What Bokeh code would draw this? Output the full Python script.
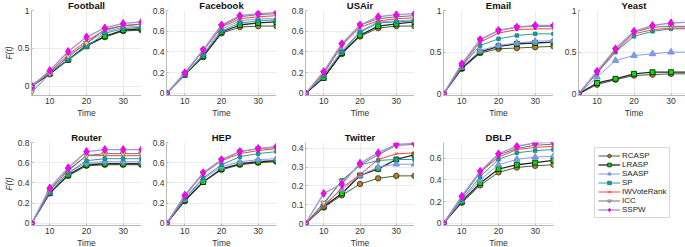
from bokeh.plotting import figure
from bokeh.layouts import row, column
from bokeh.models import FixedTicker, Legend, LegendItem, Range1d, Title
from bokeh.embed import file_html
from bokeh.resources import INLINE

time = [5, 10, 15, 20, 25, 30, 35]
methods = ["RCASP", "LRASP", "SAASP", "SP", "IWVoteRank", "ICC", "SSPW"]

football = {
    "RCASP": [0, 0.16, 0.35, 0.55, 0.65, 0.73, 0.74],
    "LRASP": [0, 0.17, 0.35, 0.53, 0.66, 0.74, 0.76],
    "SAASP": [0, 0.18, 0.38, 0.57, 0.72, 0.78, 0.79],
    "SP": [0.02, 0.18, 0.35, 0.52, 0.70, 0.76, 0.78],
    "IWVoteRank": [0, 0.19, 0.42, 0.60, 0.74, 0.80, 0.82],
    "ICC": [-0.08, 0.17, 0.40, 0.57, 0.75, 0.80, 0.82],
    "SSPW": [0, 0.21, 0.46, 0.65, 0.77, 0.83, 0.85],
}
facebook = {
    "RCASP": [0, 0.18, 0.35, 0.58, 0.64, 0.65, 0.65],
    "LRASP": [0, 0.18, 0.36, 0.59, 0.66, 0.68, 0.69],
    "SAASP": [0, 0.18, 0.38, 0.62, 0.70, 0.72, 0.72],
    "SP": [0, 0.18, 0.37, 0.60, 0.68, 0.70, 0.71],
    "IWVoteRank": [0, 0.19, 0.41, 0.64, 0.72, 0.74, 0.75],
    "ICC": [0, 0.19, 0.42, 0.65, 0.74, 0.76, 0.77],
    "SSPW": [0, 0.20, 0.42, 0.66, 0.75, 0.77, 0.78],
}
usair = {
    "RCASP": [0, 0.15, 0.38, 0.55, 0.63, 0.65, 0.65],
    "LRASP": [0, 0.15, 0.39, 0.56, 0.65, 0.67, 0.69],
    "SAASP": [0, 0.17, 0.41, 0.60, 0.69, 0.70, 0.71],
    "SP": [0, 0.17, 0.40, 0.59, 0.68, 0.69, 0.70],
    "IWVoteRank": [0, 0.19, 0.46, 0.64, 0.70, 0.72, 0.73],
    "ICC": [0, 0.20, 0.47, 0.66, 0.72, 0.74, 0.75],
    "SSPW": [0, 0.21, 0.48, 0.66, 0.74, 0.76, 0.77],
}
email = {
    "RCASP": [0, 0.30, 0.49, 0.54, 0.55, 0.56, 0.57],
    "LRASP": [0, 0.31, 0.50, 0.57, 0.60, 0.61, 0.62],
    "SAASP": [0, 0.32, 0.52, 0.58, 0.61, 0.63, 0.64],
    "SP": [0, 0.33, 0.58, 0.66, 0.70, 0.72, 0.72],
    "IWVoteRank": [0, 0.34, 0.62, 0.73, 0.77, 0.78, 0.78],
    "ICC": [0, 0.35, 0.65, 0.76, 0.80, 0.81, 0.81],
    "SSPW": [0, 0.36, 0.65, 0.76, 0.80, 0.82, 0.82],
}
yeast = {
    "RCASP": [0, 0.11, 0.17, 0.22, 0.23, 0.24, 0.24],
    "LRASP": [0, 0.13, 0.18, 0.24, 0.26, 0.26, 0.26],
    "SAASP": [0, 0.20, 0.40, 0.46, 0.48, 0.50, 0.50],
    "SP": [0, 0.25, 0.50, 0.69, 0.75, 0.78, 0.78],
    "IWVoteRank": [0, 0.25, 0.51, 0.72, 0.77, 0.79, 0.79],
    "ICC": [0, 0.26, 0.53, 0.74, 0.80, 0.81, 0.81],
    "SSPW": [0, 0.27, 0.54, 0.75, 0.82, 0.85, 0.86],
}
router = {
    "RCASP": [0, 0.30, 0.47, 0.57, 0.58, 0.58, 0.58],
    "LRASP": [0, 0.30, 0.48, 0.58, 0.59, 0.59, 0.59],
    "SAASP": [0, 0.31, 0.50, 0.60, 0.61, 0.61, 0.61],
    "SP": [0, 0.31, 0.50, 0.62, 0.64, 0.64, 0.64],
    "IWVoteRank": [0, 0.33, 0.52, 0.67, 0.67, 0.67, 0.67],
    "ICC": [0, 0.33, 0.53, 0.67, 0.69, 0.69, 0.69],
    "SSPW": [0, 0.35, 0.55, 0.71, 0.73, 0.73, 0.73],
}
hep = {
    "RCASP": [0, 0.22, 0.41, 0.53, 0.58, 0.60, 0.61],
    "LRASP": [0, 0.23, 0.41, 0.54, 0.59, 0.61, 0.62],
    "SAASP": [0, 0.24, 0.44, 0.56, 0.61, 0.63, 0.64],
    "SP": [0, 0.25, 0.45, 0.58, 0.66, 0.69, 0.71],
    "IWVoteRank": [0, 0.27, 0.49, 0.62, 0.69, 0.72, 0.74],
    "ICC": [0, 0.27, 0.50, 0.63, 0.71, 0.74, 0.75],
    "SSPW": [0, 0.28, 0.50, 0.63, 0.71, 0.74, 0.76],
}
twitter = {
    "RCASP": [0, 0.085, 0.15, 0.21, 0.24, 0.253, 0.253],
    "LRASP": [0, 0.09, 0.16, 0.255, 0.29, 0.34, 0.365],
    "SAASP": [0, 0.10, 0.18, 0.255, 0.30, 0.315, 0.315],
    "SP": [0, 0.10, 0.23, 0.31, 0.335, 0.34, 0.34],
    "IWVoteRank": [0, 0.09, 0.19, 0.26, 0.34, 0.37, 0.375],
    "ICC": [0, 0.11, 0.225, 0.31, 0.365, 0.415, 0.42],
    "SSPW": [0, 0.16, 0.21, 0.32, 0.375, 0.42, 0.425],
}
dblp = {
    "RCASP": [0, 0.19, 0.35, 0.47, 0.515, 0.53, 0.54],
    "LRASP": [0, 0.20, 0.37, 0.50, 0.54, 0.56, 0.58],
    "SAASP": [0, 0.21, 0.40, 0.54, 0.59, 0.61, 0.62],
    "SP": [0, 0.22, 0.43, 0.59, 0.65, 0.67, 0.68],
    "IWVoteRank": [0, 0.24, 0.47, 0.61, 0.68, 0.70, 0.71],
    "ICC": [0, 0.24, 0.47, 0.63, 0.69, 0.72, 0.73],
    "SSPW": [0, 0.25, 0.48, 0.64, 0.71, 0.74, 0.75],
}

titles = ["Football", "Facebook", "USAir", "Email", "Yeast",
          "Router", "HEP", "Twitter", "DBLP"]
datasets = [football, facebook, usair, email, yeast,
            router, hep, twitter, dblp]
y_ranges = [(-0.12, 1.0), (-0.02, 0.8), (-0.02, 0.8), (-0.02, 1.0), (-0.02, 1.0),
            (-0.02, 0.8), (-0.02, 0.8), (-0.01, 0.43), (-0.02, 0.745)]
y_ticks = [[0, 0.5, 1], [0, 0.2, 0.4, 0.6, 0.8], [0, 0.2, 0.4, 0.6, 0.8],
           [0, 0.5, 1], [0, 0.5, 1],
           [0, 0.2, 0.4, 0.6, 0.8], [0, 0.2, 0.4, 0.6, 0.8],
           [0, 0.1, 0.2, 0.3, 0.4], [0, 0.2, 0.4, 0.6]]
x_ticks = [10, 20, 30]

styles = {
    "RCASP": dict(line_color="#35692f", line_width=1.0, marker="circle", size=5.5,
                  fill_color="#b47c3c", mline="#3a2a10"),
    "LRASP": dict(line_color="#262626", line_width=1.3, marker="square", size=5,
                  fill_color="#00e000", mline="#111111"),
    "SAASP": dict(line_color="#8c9ae8", line_width=1.0, marker="triangle", size=6.5,
                  fill_color="#7d9be6", mline="#6a86d6"),
    "SP": dict(line_color="#2a9e98", line_width=1.0, marker="square", size=3.5,
               fill_color="#179c9c", mline="#127f7f"),
    "IWVoteRank": dict(line_color="#ff4040", line_width=1.0, marker="x", size=4,
                       fill_color="#ff2020", mline="#ff2020"),
    "ICC": dict(line_color="#6f6f7a", line_width=1.0, marker="inverted_triangle", size=6,
                fill_color="#e6d488", mline="#707070"),
    "SSPW": dict(line_color="#a394d6", line_width=1.4, marker="diamond", size=8,
                 fill_color="#ff00ff", mline="#cc00cc"),
}

FONT = "Liberation Sans"
col_left = [25, 25, 29, 29, 25]
col_fw = [110, 110, 109, 110, 111]
row_top = [10, 19]
row_fh = [85, 83]
row_bottom = [28, 22]


def make_panel(i):
    r, c = divmod(i, 5)
    lo, hi = y_ranges[i]
    if r == 1 and c == 3:
        right = 138
    else:
        right = 2 if c == 4 else 0
    p = figure(frame_width=col_fw[c], frame_height=row_fh[r], title=None,
               x_range=Range1d(5, 35), y_range=Range1d(lo, hi),
               output_backend="svg", toolbar_location=None,
               min_border_left=col_left[c], min_border_right=right,
               min_border_top=row_top[r], min_border_bottom=row_bottom[r],
               background_fill_color="white", border_fill_color="white")
    p.outline_line_color = None
    p.add_layout(Title(text=titles[i], align="center", vertical_align="top",
                       text_font=FONT, text_font_size="9.5px",
                       text_font_style="bold", text_color="#111111",
                       standoff=-4), "above")
    d = datasets[i]
    rends = {}
    for m in methods:
        s = styles[m]
        lr = p.line(time, d[m], line_color=s["line_color"], line_width=s["line_width"])
        sr = p.scatter(time, d[m], marker=s["marker"], size=s["size"],
                       fill_color=s["fill_color"], line_color=s["mline"], line_width=0.8)
        rends[m] = (lr, sr)
    p.xaxis.ticker = FixedTicker(ticks=x_ticks)
    p.yaxis.ticker = FixedTicker(ticks=y_ticks[i])
    p.yaxis.major_label_overrides = {t: f"{t:g}" for t in y_ticks[i]}
    for ax in (p.xaxis[0], p.yaxis[0]):
        ax.axis_line_color = "#b8b8b8"
        ax.major_tick_line_color = "#b8b8b8"
        ax.major_tick_out = 0
        ax.major_tick_in = 2
        ax.minor_tick_line_color = None
        ax.major_label_text_font = FONT
        ax.major_label_text_font_size = "8.5px"
        ax.major_label_text_color = "#333333"
        ax.major_label_standoff = 2
        ax.axis_label_text_font = FONT
        ax.axis_label_text_font_size = "8.5px"
        ax.axis_label_text_font_style = "normal"
        ax.axis_label_text_color = "#333333"
        ax.axis_label_standoff = 1
    p.xaxis.axis_label = "Time"
    if c == 0:
        p.yaxis.axis_label = "F(t)"
        p.yaxis.axis_label_text_font_style = "italic"
    p.xgrid.grid_line_color = "#ebebeb"
    p.ygrid.grid_line_color = "#ebebeb"
    return p, rends


built = [make_panel(i) for i in range(9)]
panels = [b[0] for b in built]

# legend next to the DBLP panel, using its renderers
dblp_plot, dblp_rends = built[8]
items = [LegendItem(label=m, renderers=list(dblp_rends[m])) for m in methods]
legend = Legend(items=items, location=(41, 7), label_text_font=FONT,
                label_text_font_size="8px", label_text_color="#222222",
                glyph_width=22, glyph_height=9, label_height=9, label_standoff=2,
                spacing=0, padding=3, margin=0,
                border_line_color="#b0b0b0", border_line_width=1,
                background_fill_color="white", background_fill_alpha=1.0)
dblp_plot.add_layout(legend, "right")

layout = column(row(*panels[:5]), row(*panels[5:9]))
open("out.html", "w").write(file_html(layout, INLINE))
